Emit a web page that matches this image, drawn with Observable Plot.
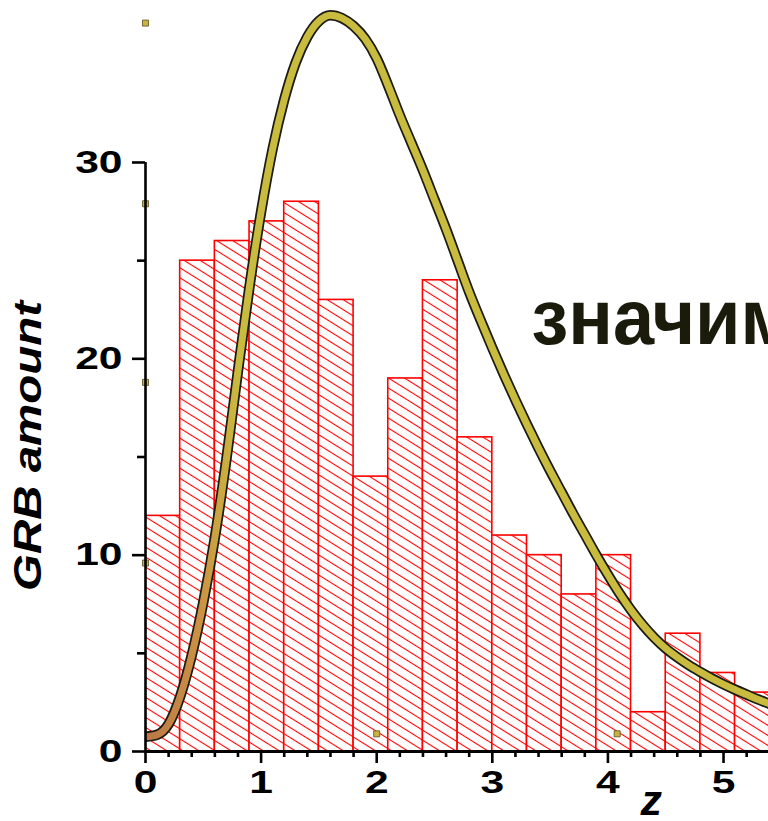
<!DOCTYPE html>
<html><head><meta charset="utf-8">
<script src="https://cdn.jsdelivr.net/npm/d3@7"></script>
<script src="https://cdn.jsdelivr.net/npm/@observablehq/plot@0.6"></script>
<style>
body{margin:0;background:#fff;}
#chart svg{display:block;overflow:hidden;}
</style>
</head><body><div id="chart"></div>
<script>
// histogram bins (redshift z) and GRB counts
const binLo  = [0.0,0.3,0.6,0.9,1.2,1.5,1.8,2.1,2.4,2.7,3.0,3.3,3.6,3.9,4.2,4.5,4.8,5.1];
const binHi  = [0.3,0.6,0.9,1.2,1.5,1.8,2.1,2.4,2.7,3.0,3.3,3.6,3.9,4.2,4.5,4.8,5.1,5.4];
const counts = [12,25,26,27,28,23,14,19,24,16,11,10,8,10,2,6,4,3];

// fitted curve
const curveZ = [0.0,0.1,0.2,0.3,0.4,0.5,0.6,0.7,0.8,0.9,1.0,1.1,1.2,1.3,1.4,1.5,1.6,1.7,1.8,1.9,2.0,2.1,2.2,2.3,2.4,2.5,2.6,2.7,2.8,2.9,3.0,3.1,3.2,3.3,3.4,3.5,3.6,3.7,3.8,3.9,4.0,4.1,4.2,4.3,4.4,4.5,4.6,4.7,4.8,4.9,5.0,5.1,5.2,5.3,5.4,5.5];
const curveN = [0.75,0.85,1.4,2.8,4.9,7.6,10.9,14.9,19.4,23.7,27.5,30.7,33.2,35.1,36.4,37.2,37.5,37.35,36.95,36.3,35.3,33.9,32.4,31.0,29.6,28.1,26.6,25.0,23.4,21.95,20.55,19.2,17.9,16.65,15.45,14.3,13.2,12.1,11.05,10.0,9.0,8.05,7.2,6.45,5.8,5.25,4.8,4.4,4.05,3.72,3.42,3.15,2.9,2.65,2.42,2.2];

// stray markers visible in the picture
const markZ = [0,0,0,0,2.0,4.08];
const markN = [37.1,27.9,18.8,9.6,0.9,0.9];

// ticks
const xMajor = [0,1,2,3,4,5];
const xMinor = [0.2,0.4,0.6,0.8,1.2,1.4,1.6,1.8,2.2,2.4,2.6,2.8,3.2,3.4,3.6,3.8,4.2,4.4,4.6,4.8,5.2];
const yMajor = [0,10,20,30];
const yMinor = [5,15,25];
const yAxisTop = 30;

const yLabel = "GRB amount";
const xLabel = "z";
const note = "значим";

const bars = counts.map((n,i)=>({lo: binLo[i], hi: binHi[i], n}));
const curve = curveZ.map((z,i)=>({z, n: curveN[i]}));
const marks = markZ.map((z,i)=>({z, n: markN[i]}));

const font = "'Liberation Sans', Arial, sans-serif";

const plot = Plot.plot({
  width: 768, height: 821,
  marginLeft: 145, marginRight: 0, marginTop: 0, marginBottom: 70,
  x: {domain: [0, 5.389]},
  y: {domain: [0, 38.25]},
  style: {fontFamily: font, background: "white", color: "black"},
  marks: [
    Plot.rect(bars, {x1: "lo", x2: "hi", y1: 0, y2: "n", fill: "url(#hatch)", stroke: "#ff0000", strokeWidth: 1.6, clip: true}),
    Plot.dot(marks, {x: "z", y: "n", symbol: "square", r: 3.4, fill: "#c9b440", stroke: "#5a4e20", strokeWidth: 0.8}),
    Plot.line(curve, {x: "z", y: "n", curve: "monotone-x", stroke: "#1c1c12", strokeWidth: 10.5, clip: true}),
    Plot.line(curve, {x: "z", y: "n", curve: "monotone-x", stroke: "url(#curveGrad)", strokeWidth: 7, clip: true}),
    Plot.ruleY([0], {stroke: "black", strokeWidth: 2.8}),
    Plot.ruleX([0], {y1: 0, y2: yAxisTop, stroke: "black", strokeWidth: 2.6}),
    Plot.axisX(xMajor, {tickSize: 12, tickPadding: 7, strokeWidth: 2.6, fontSize: 32, fontWeight: "bold", tickFormat: d => String(d), label: null}),
    Plot.axisX(xMinor, {tickSize: 6, strokeWidth: 2.6, text: null, label: null}),
    Plot.axisY(yMajor, {tickSize: 13, tickPadding: 10, strokeWidth: 2.6, fontSize: 32, fontWeight: "bold", tickFormat: d => String(d), label: null}),
    Plot.axisY(yMinor, {tickSize: 8, strokeWidth: 2.6, text: null, label: null}),
    Plot.text([yLabel], {frameAnchor: "left", rotate: -90, dx: -117, dy: 70, textAnchor: "middle", fontSize: 39, fontWeight: "bold", fontStyle: "italic", fill: "black"}),
    Plot.text([xLabel], {frameAnchor: "bottom-left", dx: 495, dy: 63, textAnchor: "start", lineAnchor: "bottom", fontSize: 43, fontWeight: "bold", fontStyle: "italic", fill: "black"}),
    Plot.text([note], {frameAnchor: "top-left", dx: 386, dy: 343, textAnchor: "start", lineAnchor: "bottom", fontSize: 77, fontWeight: "bold", fill: "#1a1b0b"})
  ]
});

document.getElementById("chart").appendChild(plot);

const svg = d3.select(plot);
const defs = svg.insert("defs", ":first-child");
const pat = defs.append("pattern").attr("id", "hatch").attr("patternUnits", "userSpaceOnUse")
  .attr("width", 20).attr("height", 8.5).attr("patternTransform", "rotate(32)");
pat.append("rect").attr("width", 20).attr("height", 8.5).attr("fill", "white");
pat.append("line").attr("x1", 0).attr("x2", 20).attr("y1", 4.25).attr("y2", 4.25)
  .attr("stroke", "#ff0000").attr("stroke-width", 1.1);
const grad = defs.append("linearGradient").attr("id", "curveGrad").attr("gradientUnits", "userSpaceOnUse")
  .attr("x1", 145).attr("x2", 238).attr("y1", 0).attr("y2", 0);
grad.append("stop").attr("offset", 0).attr("stop-color", "#bb7646");
grad.append("stop").attr("offset", 0.6).attr("stop-color", "#cc9244");
grad.append("stop").attr("offset", 1).attr("stop-color", "#c9bb3e");

// widen tick labels to match the wide font of the original
svg.selectAll("g[aria-label$='tick label'] text").each(function() {
  const len = this.getComputedTextLength();
  this.setAttribute("textLength", len * 1.33);
  this.setAttribute("lengthAdjust", "spacingAndGlyphs");
});
svg.selectAll("text").each(function() {
  if (this.textContent === yLabel) {
    this.setAttribute("textLength", 290);
    this.setAttribute("lengthAdjust", "spacingAndGlyphs");
  } else if (this.textContent === note) {
    this.setAttribute("textLength", this.getComputedTextLength() * 0.96);
    this.setAttribute("lengthAdjust", "spacingAndGlyphs");
  }
});
</script>
</body></html>
